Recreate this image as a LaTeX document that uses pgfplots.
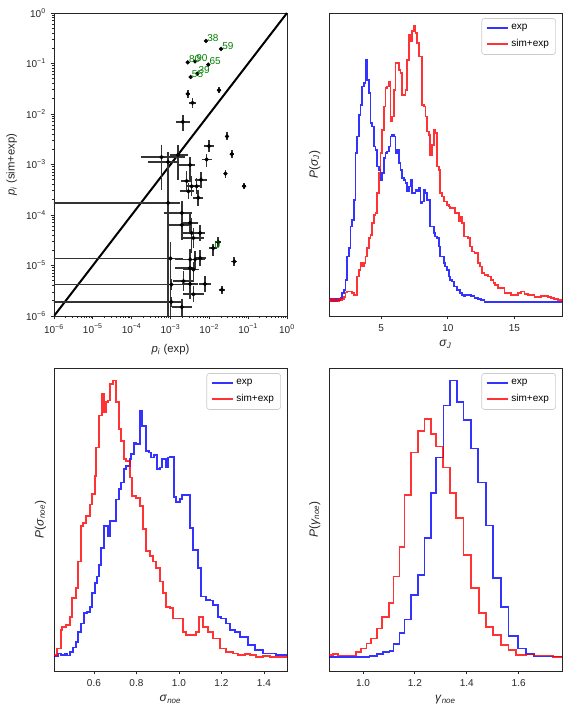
\documentclass[border=0pt]{standalone}
\usepackage{fontspec}
\setmainfont{Liberation Sans}
\usepackage{pgfplots}
\usepackage{pgfplotstable}
\pgfplotsset{compat=1.18}
\definecolor{mblue}{rgb}{0,0,1}
\definecolor{mred}{rgb}{1,0,0}
\definecolor{mgreen}{rgb}{0,0.5,0}
\definecolor{axc}{HTML}{262626}

% scatter: x y, error extents in decades (left, right, up, down)
\pgfplotstableread{
x y dl dr du dd
8.2e-3 0.279 0.02 0.02 0.02 0.02
0.020 0.194 0.02 0.02 0.02 0.02
2.77e-3 0.105 0.02 0.02 0.02 0.02
4.3e-3 0.110 0.02 0.02 0.02 0.02
9.4e-3 0.095 0.02 0.02 0.02 0.02
4.9e-3 0.063 0.02 0.02 0.02 0.02
3.3e-3 0.054 0.02 0.02 0.02 0.02
0.0177 0.0294 0.05 0.05 0.06 0.06
2.77e-3 0.025 0.05 0.05 0.08 0.08
3.7e-3 0.0166 0.08 0.08 0.10 0.10
2.06e-3 7.0e-3 0.18 0.18 0.14 0.18
0.0285 3.6e-3 0.05 0.05 0.08 0.08
0.0377 1.6e-3 0.05 0.05 0.08 0.08
9.8e-3 2.3e-3 0.13 0.13 0.12 0.12
8.5e-3 1.26e-3 0.13 0.13 0.10 0.16
0.026 6.6e-4 0.05 0.05 0.08 0.08
0.079 3.7e-4 0.05 0.05 0.06 0.06
5.9e-4 1.4e-3 0.52 0.59 0.24 0.65
1.55e-3 1.55e-3 0.21 0.26 0.20 0.49
8.7e-4 1.12e-3 0.52 0.26 0.20 5
3.2e-3 9.8e-4 0.31 0.13 0.16 0.30
6.1e-3 5.0e-4 0.15 0.15 0.16 0.16
2.6e-3 4.7e-4 0.15 0.15 0.20 0.20
3.5e-3 3.7e-4 0.15 0.15 0.20 0.20
4.7e-3 3.7e-4 0.13 0.13 0.16 0.16
2.9e-3 2.95e-4 0.21 0.15 0.16 0.16
5.2e-3 2.2e-4 0.13 0.13 0.16 0.16
8.7e-4 1.74e-4 5 0.31 0.06 0.16
1.95e-3 1.1e-4 0.46 0.26 0.24 0.24
1.95e-3 6.4e-5 0.39 0.21 0.20 0.30
3.2e-3 7.0e-5 0.21 0.21 0.20 0.20
3.5e-3 4.4e-5 0.21 0.21 0.30 0.40
5.8e-3 4.4e-5 0.13 0.13 0.16 0.16
3.9e-3 3.5e-5 0.26 0.26 0.20 0.20
0.017 2.9e-5 0.08 0.08 0.10 0.10
0.0126 2.2e-5 0.10 0.10 0.08 0.16
1.0e-3 1.38e-5 5 0.31 0.32 5
3.2e-3 1.32e-5 0.39 0.21 0.20 0.20
4.3e-3 1.32e-5 0.26 0.26 0.16 0.16
5.8e-3 1.4e-5 0.15 0.15 0.16 0.16
0.044 1.2e-5 0.08 0.08 0.08 0.08
3.2e-3 8.9e-6 0.39 0.15 0.16 0.16
3.9e-3 8.3e-6 0.26 0.15 0.16 0.20
2.15e-3 4.9e-6 0.26 0.26 0.20 0.20
3.2e-3 4.3e-6 0.21 0.21 0.16 0.30
1.05e-3 4.2e-6 5 0.36 0.10 0.10
7.7e-3 4.3e-6 0.15 0.15 0.16 0.16
3.9e-3 2.7e-6 0.26 0.26 0.16 0.16
0.021 3.3e-6 0.08 0.08 0.08 0.08
1.05e-3 1.9e-6 5 0.26 0.10 0.10
1.95e-3 1.5e-6 0.26 0.26 0.16 5
}\scat

\pgfplotstableread{
x y lab
8.2e-3 0.279 38
0.020 0.194 59
2.77e-3 0.105 80
4.3e-3 0.110 90
9.4e-3 0.095 65
3.3e-3 0.054 55
4.9e-3 0.063 39
0.0126 2.2e-5 0
}\labs

\pgfplotstableread{
x h
1.075 5
1.125 5
1.25 8
1.375 3
1.5 8
1.625 3
1.75 8
1.875 5
2.0 10
2.125 25
2.25 35
2.375 65
2.5 135
2.625 160
2.75 225
2.875 245
3.0 305
3.125 445
3.25 495
3.375 560
3.5 590
3.625 645
3.75 655
3.875 725
4.0 665
4.125 625
4.25 535
4.375 525
4.5 465
4.625 455
4.75 405
4.875 395
5.0 365
5.125 385
5.25 430
5.375 445
5.5 450
5.625 465
5.75 495
5.875 500
6.0 495
6.125 445
6.25 455
6.375 415
6.5 395
6.625 370
6.75 365
6.875 355
7.0 330
7.125 345
7.25 365
7.375 325
7.5 325
7.625 335
7.75 330
7.875 340
8.0 295
8.125 300
8.25 335
8.375 325
8.5 305
8.625 305
8.75 225
8.875 225
9.0 205
9.125 195
9.25 190
9.375 165
9.5 135
9.625 135
9.75 115
9.875 105
10.0 95
10.125 75
10.25 65
10.375 60
10.5 45
10.625 45
10.75 35
10.875 35
11.0 25
11.125 20
11.25 17
11.375 20
11.625 21
11.875 17
12.125 12
12.375 8
12.625 4
12.875 0
18.575 0
}\trb

\pgfplotstableread{
x h
1.075 5
1.125 5
1.25 3
1.375 7
1.5 3
1.625 5
1.75 3
1.875 8
2.0 5
2.125 8
2.25 15
2.375 27
2.5 30
2.625 30
2.75 30
2.875 25
3.0 20
3.125 20
3.25 75
3.375 95
3.5 115
3.625 105
3.75 115
3.875 135
4.0 160
4.125 190
4.25 200
4.375 235
4.5 260
4.625 265
4.75 325
4.875 385
5.0 445
5.125 515
5.25 585
5.375 640
5.5 645
5.625 660
5.75 540
5.875 555
6.0 635
6.125 715
6.25 715
6.375 695
6.5 685
6.625 620
6.75 620
6.875 635
7.0 725
7.125 800
7.25 780
7.375 810
7.5 825
7.625 805
7.75 775
7.875 735
8.0 735
8.125 590
8.25 585
8.375 555
8.5 510
8.625 500
8.75 440
8.875 470
9.0 515
9.125 505
9.25 405
9.375 395
9.5 325
9.625 315
9.75 300
9.875 300
10.0 290
10.125 285
10.25 280
10.375 280
10.5 280
10.625 265
10.75 265
10.875 240
11.0 255
11.125 235
11.25 195
11.375 195
11.625 190
11.75 165
11.875 150
12.125 145
12.375 115
12.5 105
12.625 85
12.875 80
13.125 75
13.375 65
13.5 55
13.625 50
13.875 40
14.125 40
14.375 25
14.625 25
14.875 20
15.125 20
15.375 25
15.625 30
15.875 23
16.125 20
16.375 20
16.625 15
16.875 15
17.125 17
17.375 17
17.625 15
17.875 10
18.125 8
18.375 5
18.575 2
}\trr

\pgfplotstableread{
x h
0.4120 2
0.4308 10
0.4465 6
0.4622 8
0.4747 4
0.4889 15
0.5014 28
0.5140 45
0.5265 75
0.5375 100
0.5516 132
0.5673 135
0.5798 150
0.5924 190
0.6034 220
0.6144 240
0.6238 275
0.6347 325
0.6457 390
0.6661 360
0.6771 405
0.7022 470
0.7179 500
0.7289 520
0.7398 560
0.7524 570
0.7681 590
0.7759 605
0.7869 640
0.7963 635
0.8151 735
0.8277 690
0.8465 615
0.8591 610
0.8700 595
0.8810 602
0.8967 560
0.9092 565
0.9218 590
0.9375 565
0.9485 595
0.9595 597
0.9751 478
0.9877 462
1.0034 472
1.0159 482
1.0316 482
1.0504 385
1.0661 320
1.0897 265
1.1053 180
1.1289 170
1.1446 168
1.1603 155
1.1838 120
1.1995 115
1.2230 100
1.2387 80
1.2622 75
1.2857 60
1.3250 35
1.3563 20
1.3956 10
1.4583 5
1.5085 5
}\blb

\pgfplotstableread{
x h
0.4120 5
0.4261 25
0.4434 80
0.4512 90
0.4700 95
0.4857 120
0.4983 175
0.5140 205
0.5249 285
0.5375 390
0.5485 400
0.5642 420
0.5798 455
0.5908 485
0.6034 540
0.6112 625
0.6238 720
0.6394 785
0.6457 730
0.6551 760
0.6661 765
0.6771 815
0.6896 825
0.7053 760
0.7179 680
0.7289 645
0.7398 590
0.7524 585
0.7681 535
0.7806 480
0.7963 475
0.8151 450
0.8308 382
0.8465 315
0.8622 300
0.8779 285
0.8936 265
0.9092 225
0.9249 190
0.9406 150
0.9563 145
0.9720 115
0.9955 115
1.0191 75
1.0347 65
1.0583 65
1.0818 75
1.0944 120
1.1132 90
1.1367 75
1.1603 55
1.1916 25
1.2230 15
1.2544 10
1.2779 5
1.3093 8
1.3328 5
1.3642 0
1.3956 2
1.4269 0
1.5085 0
}\blr

\pgfplotstableread{
x h
0.869 0
1.025 3
1.054 8
1.077 15
1.102 18
1.118 38
1.141 72
1.160 112
1.186 184
1.211 245
1.237 355
1.263 490
1.282 595
1.310 750
1.336 825
1.361 760
1.387 707
1.416 622
1.442 520
1.474 392
1.502 235
1.532 150
1.561 62
1.596 25
1.628 8
1.660 1
1.767 1
}\brb

\pgfplotstableread{
x h
0.869 5
0.884 8
0.904 4
0.974 15
0.993 25
1.013 40
1.032 55
1.054 85
1.074 120
1.100 160
1.118 240
1.141 327
1.160 482
1.186 610
1.211 675
1.237 710
1.263 665
1.282 628
1.307 565
1.336 490
1.359 415
1.387 305
1.416 205
1.446 130
1.474 90
1.502 65
1.532 35
1.561 20
1.590 5
1.628 7
1.660 4
1.731 0
1.767 0
}\brr

\pgfplotsset{
  panel/.style={
    scale only axis, width=174.75pt, height=227.25pt,
    anchor=south west,
    axis line style={axc, line width=0.7pt},
    tick align=outside, tick pos=left,
    major tick length=2.6pt, minor tick length=1.5pt,
    every tick/.append style={axc, line width=0.6pt},
    tick label style={font=\fontsize{7.5}{9}\selectfont, text=axc},
    label style={font=\fontsize{9}{11}\selectfont, text=axc},
    /pgf/number format/assume math mode=true,
  },
  hist/.style={
    panel, ytick=\empty,
    legend cell align=left,
    legend style={at={(0.974,0.983)}, anchor=north east, draw=black!20,
      line width=0.5pt,
      rounded corners=2pt, font=\fontsize{7.5}{9}\selectfont,
      inner xsep=3pt, inner ysep=2.5pt, row sep=1.5pt},
    legend image code/.code={\draw[##1, line width=1.3pt] (0pt,0pt) -- (16pt,0pt);},
    ylabel style={at={(axis description cs:-0.017,0.5)}, anchor=south},
  },
  bl/.style={const plot mark left, draw=mblue, line width=1.3pt, opacity=0.8},
  rd/.style={const plot mark left, draw=mred, line width=1.3pt, opacity=0.8},
}

\begin{document}
\begin{tikzpicture}
\path[use as bounding box] (0pt,0pt) rectangle (426pt,534pt);

% ---------- top left: scatter ----------
\begin{axis}[panel, at={(40.5pt,297pt)},
  xmode=log, ymode=log, xmin=1e-6, xmax=1, ymin=1e-6, ymax=1,
  xtick={1e-6,1e-5,1e-4,1e-3,1e-2,1e-1,1},
  ytick={1e-6,1e-5,1e-4,1e-3,1e-2,1e-1,1},
  xticklabels={10\textsuperscript{−6},10\textsuperscript{−5},10\textsuperscript{−4},10\textsuperscript{−3},10\textsuperscript{−2},10\textsuperscript{−1},10\textsuperscript{0}},
  yticklabels={10\textsuperscript{−6},10\textsuperscript{−5},10\textsuperscript{−4},10\textsuperscript{−3},10\textsuperscript{−2},10\textsuperscript{−1},10\textsuperscript{0}},
  xlabel={\textit{p}\textsubscript{\textit{i}} (exp)},
  ylabel={\textit{p}\textsubscript{\textit{i}} (sim+exp)},
  label style={font=\fontsize{8.5}{10}\selectfont},
  xlabel style={yshift=-1.5pt},
]
\addplot[black, line width=1.5pt] coordinates {(1e-6,1e-6) (1,1)};
\addplot[only marks, mark=*, mark size=1.4pt, black,
  error bars/.cd, x dir=both, x explicit, y dir=both, y explicit,
  error mark=none, error bar style={line width=1.3pt, black!80}]
  table[x=x, y=y,
    x error plus expr={\thisrow{x}*(10^(\thisrow{dr})-1)},
    x error minus expr={\thisrow{x}*(1-10^(-\thisrow{dl}))},
    y error plus expr={\thisrow{y}*(10^(\thisrow{du})-1)},
    y error minus expr={\thisrow{y}*(1-10^(-\thisrow{dd}))}]{\scat};
\addplot[draw=none, nodes near coords, point meta=explicit symbolic,
  every node near coord/.append style={anchor=south west, inner sep=0pt,
    xshift=0.8pt, yshift=-0.5pt, font=\fontsize{7.5}{9}\selectfont, text=mgreen}]
  table[x=x, y=y, meta=lab]{\labs};
\end{axis}

% ---------- top right ----------
\begin{axis}[hist, at={(246.75pt,297pt)},
  xmin=1.075, xmax=18.575, ymin=-43, ymax=865, xtick={5,10,15},
  xlabel={\textit{σ}\textsubscript{\textit{J}}},
  ylabel={\textit{P}(\textit{σ}\textsubscript{\textit{J}})},
]
\addplot[bl, const plot mark mid] table[x=x, y=h]{\trb};
\addlegendentry{exp}
\addplot[rd, const plot mark mid] table[x=x, y=h]{\trr};
\addlegendentry{sim+exp}
\end{axis}

% ---------- bottom left ----------
\begin{axis}[hist, at={(40.5pt,30.75pt)},
  xmin=0.412, xmax=1.5085, ymin=-42, ymax=862,
  xtick={0.6,0.8,1.0,1.2,1.4},
  xticklabel style={/pgf/number format/.cd, fixed, fixed zerofill, precision=1},
  xlabel={\textit{σ}\textsubscript{\textit{noe}}},
  ylabel={\textit{P}(\textit{σ}\textsubscript{\textit{noe}})},
  ylabel style={at={(axis description cs:-0.0135,0.5)}, anchor=south},
]
\addplot[bl] table[x=x, y=h]{\blb};
\addlegendentry{exp}
\addplot[rd] table[x=x, y=h]{\blr};
\addlegendentry{sim+exp}
\end{axis}

% ---------- bottom right ----------
\begin{axis}[hist, at={(246.75pt,30.75pt)},
  xmin=0.869, xmax=1.767, ymin=-42, ymax=862,
  xtick={1.0,1.2,1.4,1.6},
  xticklabel style={/pgf/number format/.cd, fixed, fixed zerofill, precision=1},
  xlabel={\textit{γ}\textsubscript{\textit{noe}}},
  ylabel={\textit{P}(\textit{γ}\textsubscript{\textit{noe}})},
]
\addplot[bl] table[x=x, y=h]{\brb};
\addlegendentry{exp}
\addplot[rd] table[x=x, y=h]{\brr};
\addlegendentry{sim+exp}
\end{axis}
\end{tikzpicture}
\end{document}
